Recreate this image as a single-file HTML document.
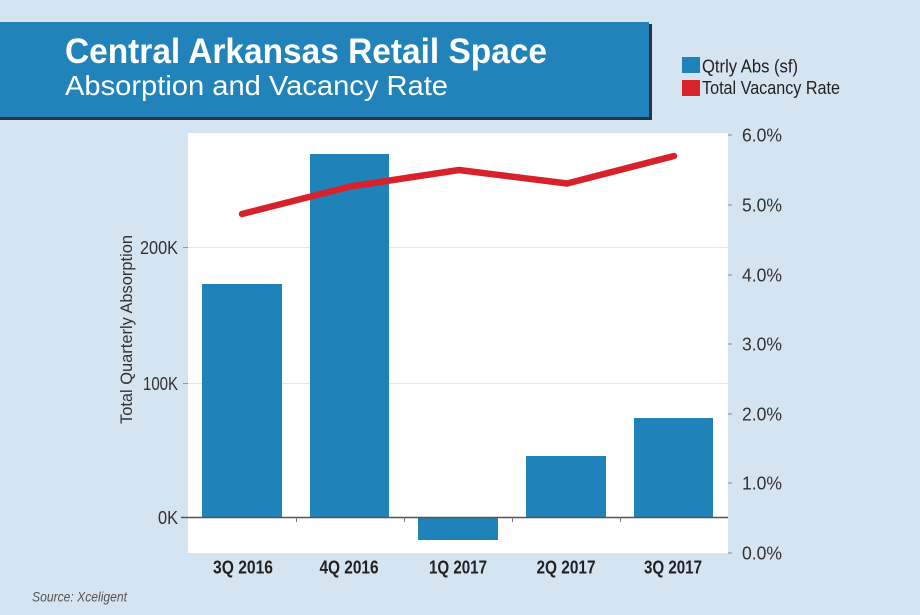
<!DOCTYPE html>
<html>
<head>
<meta charset="utf-8">
<style>
  html,body{margin:0;padding:0;background:#d5e4f1;}
  svg{display:block;}
  text{font-family:"Liberation Sans",sans-serif;}
</style>
</head>
<body>
<svg width="920" height="615" viewBox="0 0 920 615" xmlns="http://www.w3.org/2000/svg">
  <rect x="0" y="0" width="920" height="615" fill="#d5e4f1"/>

  <!-- Banner -->
  <rect x="0" y="24" width="652" height="96" fill="#2a3440"/>
  <rect x="0" y="22" width="649" height="95" fill="#2183b9"/>
  <text x="65" y="63" font-size="35" font-weight="bold" fill="#ffffff" textLength="482" lengthAdjust="spacingAndGlyphs">Central Arkansas Retail Space</text>
  <text x="65" y="95" font-size="28" fill="#ffffff" textLength="383" lengthAdjust="spacingAndGlyphs">Absorption and Vacancy Rate</text>

  <!-- Legend -->
  <rect x="682" y="57" width="18" height="16" fill="#1f82b8"/>
  <rect x="682" y="80" width="18" height="16" fill="#d8232a"/>
  <text x="702" y="72.5" font-size="18" fill="#222" textLength="96" lengthAdjust="spacingAndGlyphs">Qtrly Abs (sf)</text>
  <text x="702" y="94" font-size="18" fill="#222" textLength="138" lengthAdjust="spacingAndGlyphs">Total Vacancy Rate</text>

  <!-- Plot area -->
  <rect x="188" y="133" width="540" height="420" fill="#ffffff"/>

  <!-- gridlines -->
  <line x1="188" y1="247.5" x2="728" y2="247.5" stroke="#e6e6e6" stroke-width="1"/>
  <line x1="188" y1="383.5" x2="728" y2="383.5" stroke="#e6e6e6" stroke-width="1"/>

  <!-- Bars -->
  <rect x="202" y="284" width="80" height="233.5" fill="#1f82b8"/>
  <rect x="310" y="154" width="79" height="363.5" fill="#1f82b8"/>
  <rect x="418" y="517.5" width="80" height="22.5" fill="#1f82b8"/>
  <rect x="526" y="456" width="80" height="61.5" fill="#1f82b8"/>
  <rect x="634" y="418" width="79" height="99.5" fill="#1f82b8"/>

  <!-- zero line and ticks -->
  <line x1="181" y1="517.5" x2="728" y2="517.5" stroke="#555" stroke-width="1.5"/>
  <line x1="183" y1="247.5" x2="188" y2="247.5" stroke="#999" stroke-width="1"/>
  <line x1="183" y1="383.5" x2="188" y2="383.5" stroke="#999" stroke-width="1"/>
  <line x1="296.5" y1="517.5" x2="296.5" y2="522" stroke="#777" stroke-width="1"/>
  <line x1="404.5" y1="517.5" x2="404.5" y2="522" stroke="#777" stroke-width="1"/>
  <line x1="512.5" y1="517.5" x2="512.5" y2="522" stroke="#777" stroke-width="1"/>
  <line x1="620.5" y1="517.5" x2="620.5" y2="522" stroke="#777" stroke-width="1"/>

  <!-- right ticks -->
  <g stroke="#888" stroke-width="1">
    <line x1="728" y1="135" x2="732" y2="135"/>
    <line x1="728" y1="205" x2="732" y2="205"/>
    <line x1="728" y1="275" x2="732" y2="275"/>
    <line x1="728" y1="344" x2="732" y2="344"/>
    <line x1="728" y1="414" x2="732" y2="414"/>
    <line x1="728" y1="483" x2="732" y2="483"/>
    <line x1="728" y1="553" x2="732" y2="553"/>
  </g>

  <!-- Vacancy line -->
  <polyline points="242,214 350,186.5 459,170 567,183.5 674,156" fill="none" stroke="#d7222c" stroke-width="6.5" stroke-linecap="round" stroke-linejoin="round"/>

  <!-- Left axis labels -->
  <g font-size="18" fill="#333" text-anchor="end">
    <text x="178" y="254" textLength="38" lengthAdjust="spacingAndGlyphs">200K</text>
    <text x="178" y="390" textLength="35" lengthAdjust="spacingAndGlyphs">100K</text>
    <text x="178" y="524" textLength="20" lengthAdjust="spacingAndGlyphs">0K</text>
  </g>

  <!-- Y axis title -->
  <text transform="translate(132,329.5) rotate(-90)" text-anchor="middle" font-size="17" fill="#333" textLength="189" lengthAdjust="spacingAndGlyphs">Total Quarterly Absorption</text>

  <!-- Right axis labels -->
  <g font-size="18" fill="#333">
    <text x="742" y="141.5" textLength="40" lengthAdjust="spacingAndGlyphs">6.0%</text>
    <text x="742" y="211.5" textLength="40" lengthAdjust="spacingAndGlyphs">5.0%</text>
    <text x="742" y="281.5" textLength="40" lengthAdjust="spacingAndGlyphs">4.0%</text>
    <text x="742" y="350.5" textLength="40" lengthAdjust="spacingAndGlyphs">3.0%</text>
    <text x="742" y="420.5" textLength="40" lengthAdjust="spacingAndGlyphs">2.0%</text>
    <text x="742" y="489.5" textLength="40" lengthAdjust="spacingAndGlyphs">1.0%</text>
    <text x="742" y="559.5" textLength="40" lengthAdjust="spacingAndGlyphs">0.0%</text>
  </g>

  <!-- X labels -->
  <g font-size="18" font-weight="bold" fill="#222" text-anchor="middle">
    <text x="243" y="573.5" textLength="60" lengthAdjust="spacingAndGlyphs">3Q 2016</text>
    <text x="349" y="573.5" textLength="59" lengthAdjust="spacingAndGlyphs">4Q 2016</text>
    <text x="458" y="573.5" textLength="58" lengthAdjust="spacingAndGlyphs">1Q 2017</text>
    <text x="566" y="573.5" textLength="59" lengthAdjust="spacingAndGlyphs">2Q 2017</text>
    <text x="673" y="573.5" textLength="58" lengthAdjust="spacingAndGlyphs">3Q 2017</text>
  </g>

  <!-- Source -->
  <text x="32" y="601.5" font-size="13.5" font-style="italic" fill="#555" textLength="95" lengthAdjust="spacingAndGlyphs">Source: Xceligent</text>
</svg>
</body>
</html>
